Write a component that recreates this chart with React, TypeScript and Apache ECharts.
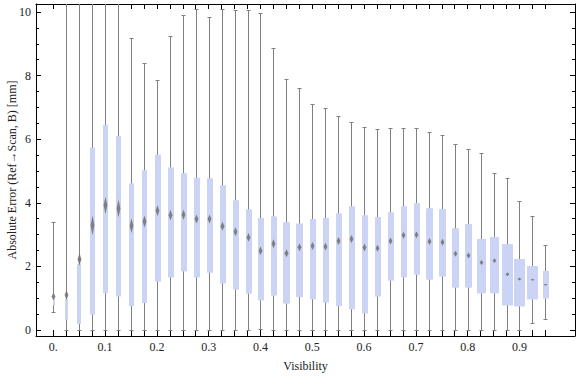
import React, { useEffect, useRef } from "react";
import * as echarts from "echarts";

// Visibility bins (x positions of the boxes)
const visibility = [
  0, 0.025, 0.05, 0.075, 0.1, 0.125, 0.15, 0.175, 0.2, 0.225,
  0.25, 0.275, 0.3, 0.325, 0.35, 0.375, 0.4, 0.425, 0.45, 0.475,
  0.5, 0.525, 0.55, 0.575, 0.6, 0.625, 0.65, 0.675, 0.7, 0.725,
  0.75, 0.775, 0.8, 0.825, 0.85, 0.875, 0.9, 0.925, 0.95,
];

const xLabelValues = [0, 0.1, 0.2, 0.3, 0.4, 0.5, 0.6, 0.7, 0.8, 0.9];
const xLabelTexts = ["0.", "0.1", "0.2", "0.3", "0.4", "0.5", "0.6", "0.7", "0.8", "0.9"];
const yMajorTicks = [0, 2, 4, 6, 8, 10];
const yMinorTicks = [0.5, 1, 1.5, 2.5, 3, 3.5, 4.5, 5, 5.5, 6.5, 7, 7.5, 8.5, 9, 9.5];

// Whisker ends, quartiles and medians [mm]
const whiskerLow = [
  0.55, 0, 0, 0, 0, 0, 0, 0, 0, 0,
  0, 0, 0, 0, 0, 0, 0.03, 0, 0, 0,
  0, 0, 0, 0, 0, 0, 0, 0, 0, 0,
  0, 0, 0, 0, 0, 0, 0, 0.23, 0.34,
];
const quartile1 = [
  0.78, 0.32, 0.19, 0.49, 1.16, 1.05, 0.75, 0.85, 1.52, 1.65,
  1.84, 1.65, 1.8, 1.46, 1.27, 1.14, 0.93, 1.08, 0.83, 1.03,
  0.96, 0.86, 0.75, 0.65, 0.52, 1.05, 1.55, 1.65, 1.74, 1.58,
  1.68, 1.33, 1.33, 1.15, 1.15, 0.77, 0.74, 0.96, 0.99,
];
const medians = [
  1.05, 1.1, 2.22, 3.29, 3.92, 3.82, 3.28, 3.41, 3.75, 3.61,
  3.62, 3.49, 3.49, 3.26, 3.09, 2.91, 2.49, 2.71, 2.41, 2.6,
  2.64, 2.62, 2.8, 2.86, 2.59, 2.57, 2.8, 2.98, 2.99, 2.78,
  2.76, 2.4, 2.34, 2.12, 2.18, 1.75, 1.6, 1.58, 1.42,
];
const quartile3 = [
  1.1, 0.97, 2.07, 5.74, 6.45, 6.09, 4.61, 5.02, 5.51, 5.11,
  4.93, 4.79, 4.77, 4.55, 4.08, 3.79, 3.52, 3.57, 3.39, 3.35,
  3.49, 3.52, 3.67, 3.89, 3.61, 3.55, 3.7, 3.89, 3.99, 3.83,
  3.8, 3.2, 3.33, 2.86, 2.92, 2.7, 2.23, 2.01, 1.86,
];
const whiskerHigh = [
  3.41, 11, 11, 11, 11, 11, 9.18, 8.39, 7.86, 9.25,
  9.9, 10.08, 9.83, 10.08, 10.05, 10.05, 9.96, 8.86, 7.89, 7.61,
  7.1, 6.98, 6.73, 6.55, 6.39, 6.33, 6.36, 6.36, 6.36, 6.23,
  6.14, 5.86, 5.7, 5.57, 4.95, 4.79, 4.07, 3.57, 2.66,
];
// Relative box width (share of one bin) and median-confidence half height [mm]
const boxShare = [
  0.15, 0.23, 0.31, 0.38, 0.38, 0.38, 0.38, 0.38, 0.46, 0.46,
  0.46, 0.46, 0.46, 0.46, 0.46, 0.46, 0.46, 0.46, 0.54, 0.54,
  0.46, 0.46, 0.46, 0.46, 0.46, 0.46, 0.46, 0.46, 0.46, 0.54,
  0.54, 0.54, 0.54, 0.69, 0.69, 0.85, 0.85, 0.85, 0.46,
];
const medianNotch = [
  0.125, 0.157, 0.2, 0.31, 0.27, 0.28, 0.235, 0.19, 0.17, 0.17,
  0.157, 0.14, 0.14, 0.14, 0.14, 0.14, 0.14, 0.14, 0.125, 0.125,
  0.125, 0.125, 0.125, 0.125, 0.125, 0.11, 0.11, 0.11, 0.11, 0.11,
  0.11, 0.094, 0.094, 0.078, 0.078, 0.063, 0.047, 0.031, 0.031,
];

const FONT = "'Liberation Serif', 'DejaVu Serif', serif";
const Y_MIN = -0.19;
const Y_MAX = 10.25;
const X_MIN = -0.0334;
const X_MAX = 1.0072;

export default function App() {
  const ref = useRef<HTMLDivElement>(null);

  useEffect(() => {
    const chart = echarts.init(ref.current!, null, { renderer: "svg" });

    const data = visibility.map((v, i) => [
      v,
      whiskerLow[i],
      quartile1[i],
      medians[i],
      quartile3[i],
      whiskerHigh[i],
      boxShare[i],
      medianNotch[i],
    ]);

    const labelFormatter = (val: number) => {
      let best = 0;
      let bd = Infinity;
      xLabelValues.forEach((lv, i) => {
        const d = Math.abs(lv - val);
        if (d < bd) {
          bd = d;
          best = i;
        }
      });
      return xLabelTexts[best];
    };

    const axisLine = { show: true, onZero: false, lineStyle: { color: "#000", width: 1 } };
    const noLine = { show: false, onZero: false };

    const renderItem = (params: any, api: any) => {
      const x = api.value(0);
      const lo = api.coord([x, api.value(1)]);
      const q1 = api.coord([x, api.value(2)]);
      const md = api.coord([x, api.value(3)]);
      const q3 = api.coord([x, api.value(4)]);
      const hi = api.coord([x, api.value(5)]);
      const slot = api.size([0.025, 0])[0];
      const bw = Math.max(1.5, api.value(6) * slot);
      const nh = Math.max(1, api.size([0, api.value(7)])[1]);
      const cx = Math.round(lo[0]) + 0.5;
      const yLo = Math.round(lo[1]) + 0.5;
      const yHi = Math.round(hi[1]) + 0.5;
      const ws = { stroke: "#808080", lineWidth: 1 };
      const bx = Math.round(cx - bw / 2);
      return {
        type: "group",
        children: [
          { type: "line", shape: { x1: cx, y1: yLo, x2: cx, y2: yHi }, style: ws },
          { type: "line", shape: { x1: cx - 2, y1: yLo, x2: cx + 2, y2: yLo }, style: ws },
          { type: "line", shape: { x1: cx - 2, y1: yHi, x2: cx + 2, y2: yHi }, style: ws },
          {
            type: "rect",
            shape: { x: bx, y: q3[1], width: Math.round(bw), height: q1[1] - q3[1] },
            style: { fill: "#ccd4f6" },
          },
          {
            type: "polygon",
            shape: {
              points: [
                [cx, md[1] - nh],
                [cx + 1.9, md[1]],
                [cx, md[1] + nh],
                [cx - 1.9, md[1]],
              ],
            },
            style: { fill: "#767676", opacity: 0.9 },
          },
        ],
      };
    };

    chart.setOption({
      animation: false,
      backgroundColor: "#fff",
      grid: {
        left: 36,
        right: 1,
        top: 4,
        bottom: 41,
        containLabel: false,
        outerBoundsMode: "none",
      },
      xAxis: [
        {
          type: "value",
          min: X_MIN,
          max: X_MAX,
          position: "bottom",
          axisLine,
          splitLine: { show: false },
          axisTick: {
            show: true,
            inside: true,
            length: 6,
            customValues: visibility,
            lineStyle: { color: "#000" },
          },
          axisLabel: {
            show: true,
            customValues: xLabelValues,
            formatter: labelFormatter,
            color: "#222",
            fontFamily: FONT,
            fontSize: 12,
            margin: 5,
          },
          name: "Visibility",
          nameLocation: "middle",
          nameGap: 24,
          nameMoveOverlap: false,
          nameTextStyle: { color: "#222", fontFamily: FONT, fontSize: 12 },
        },
        {
          type: "value",
          min: X_MIN,
          max: X_MAX,
          position: "top",
          axisLine,
          splitLine: { show: false },
          axisTick: {
            show: true,
            inside: true,
            length: 5,
            customValues: visibility,
            lineStyle: { color: "#000" },
          },
          axisLabel: { show: false },
        },
      ],
      yAxis: [
        {
          type: "value",
          min: Y_MIN,
          max: Y_MAX,
          position: "left",
          axisLine,
          splitLine: { show: false },
          axisTick: {
            show: true,
            inside: true,
            length: 5,
            customValues: yMajorTicks,
            lineStyle: { color: "#000" },
          },
          axisLabel: {
            show: true,
            customValues: yMajorTicks,
            color: "#222",
            fontFamily: FONT,
            fontSize: 12,
            margin: 5,
          },
          name: "Absolute Error (Ref→Scan, B) [mm]",
          nameLocation: "middle",
          nameGap: 18,
          nameMoveOverlap: false,
          nameTextStyle: { color: "#222", fontFamily: FONT, fontSize: 12 },
        },
        {
          type: "value",
          min: Y_MIN,
          max: Y_MAX,
          position: "left",
          axisLine: noLine,
          splitLine: { show: false },
          axisTick: {
            show: true,
            inside: true,
            length: 3,
            customValues: yMinorTicks,
            lineStyle: { color: "#000" },
          },
          axisLabel: { show: false },
        },
        {
          type: "value",
          min: Y_MIN,
          max: Y_MAX,
          position: "right",
          axisLine,
          splitLine: { show: false },
          axisTick: {
            show: true,
            inside: true,
            length: 5,
            customValues: yMajorTicks,
            lineStyle: { color: "#000" },
          },
          axisLabel: { show: false },
        },
        {
          type: "value",
          min: Y_MIN,
          max: Y_MAX,
          position: "right",
          axisLine: noLine,
          splitLine: { show: false },
          axisTick: {
            show: true,
            inside: true,
            length: 3,
            customValues: yMinorTicks,
            lineStyle: { color: "#000" },
          },
          axisLabel: { show: false },
        },
      ],
      series: [
        {
          type: "custom",
          xAxisIndex: 0,
          yAxisIndex: 0,
          clip: true,
          renderItem,
          encode: { x: 0, y: [1, 2, 3, 4, 5] },
          data,
        },
      ],
    });

    return () => chart.dispose();
  }, []);

  return (
    <div
      ref={ref}
      style={{ position: "absolute", left: 0, top: 0, width: 576, height: 377 }}
    />
  );
}
